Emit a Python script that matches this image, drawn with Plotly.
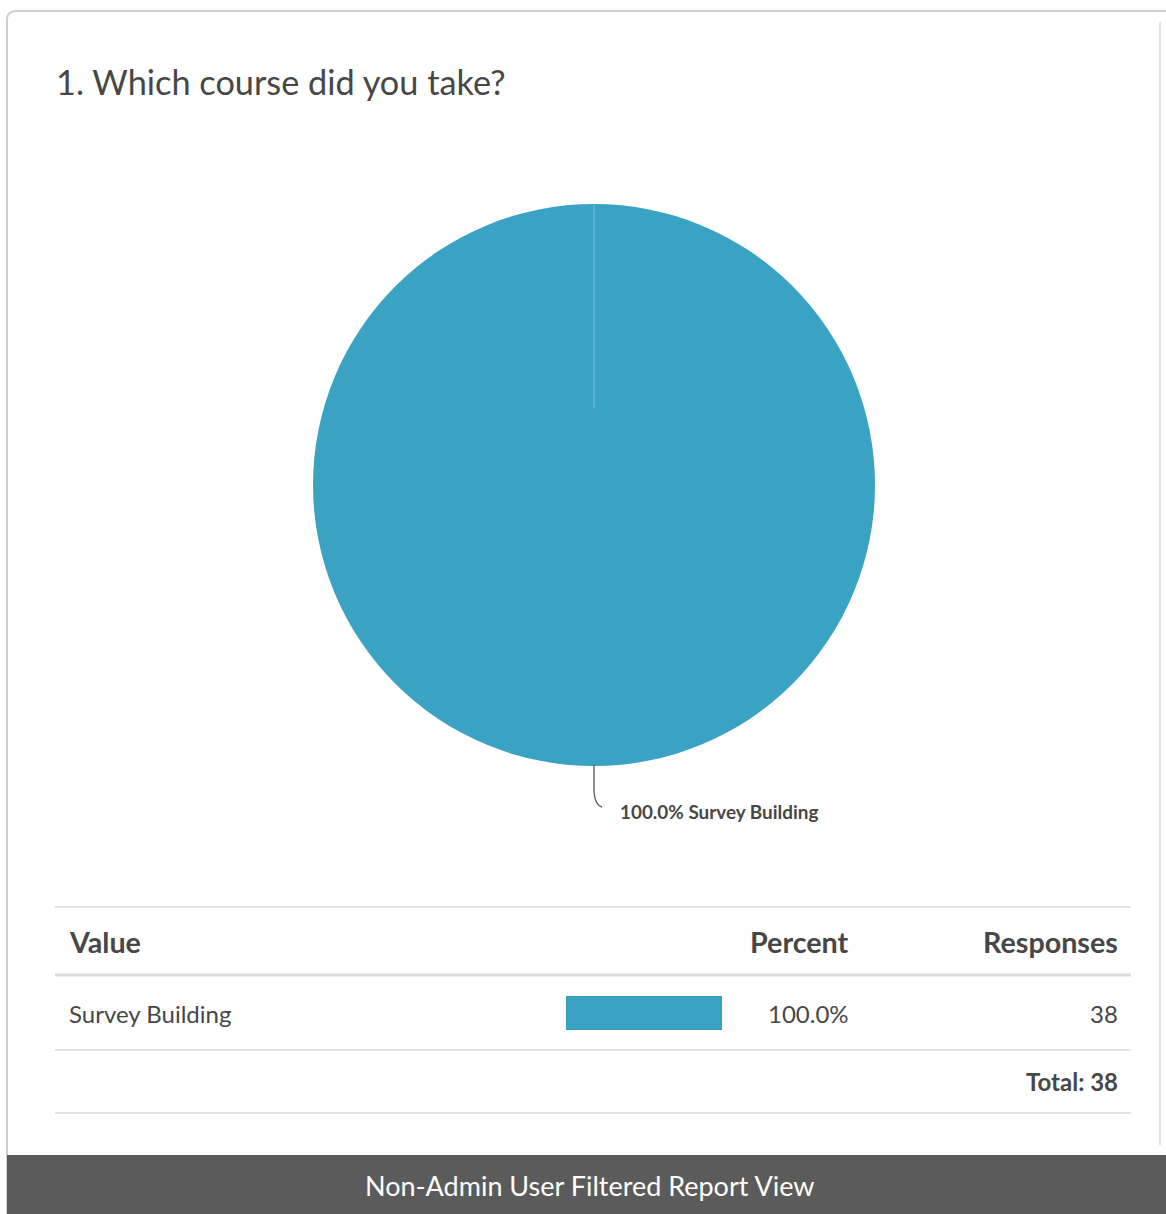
import plotly.graph_objects as go

# ---- data ----
question = "1. Which course did you take?"
categories = ["Survey Building"]
responses = [38]
table_headers = ["Value", "Percent", "Responses"]
footer_text = "Non-Admin User Filtered Report View"

total = sum(responses)
percents = [100.0 * r / total for r in responses]

W, H = 1166, 1214
BLUE = "#3aa3c4"
TXT = "#474747"
FONT = "Lato"


def X(p):
    return p / W


def Y(p):
    return 1 - p / H


fig = go.Figure()

# pie
fig.add_trace(go.Pie(
    values=responses, labels=categories,
    marker=dict(colors=[BLUE], line=dict(width=0)),
    textinfo="none", sort=False, direction="clockwise", rotation=0,
    domain=dict(x=[X(313), X(875)], y=[Y(766), Y(204)]),
    showlegend=False, hoverinfo="label+percent",
))

# inline bar in table
fig.add_trace(go.Bar(
    x=percents, y=[0], orientation="h", width=1,
    marker=dict(color=BLUE, line=dict(color="#3592b0", width=1)),
    showlegend=False, hoverinfo="x",
))

fig.update_layout(
    width=W, height=H,
    margin=dict(l=0, r=0, t=0, b=0),
    paper_bgcolor="white", plot_bgcolor="rgba(0,0,0,0)",
    font=dict(family=FONT, color=TXT),
    xaxis=dict(domain=[X(566), X(722)], range=[0, 100], visible=False, fixedrange=True),
    yaxis=dict(domain=[Y(1030), Y(996)], range=[-0.5, 0.5], visible=False, fixedrange=True),
)

shapes = []
# card border
shapes.append(dict(type="path", xref="paper", yref="paper",
                   path=f"M {X(7)} {Y(1214)} L {X(7)} {Y(20)} Q {X(7)} {Y(11)} {X(16)} {Y(11)} L {X(1166)} {Y(11)}",
                   line=dict(color="#cfcfcf", width=2)))
shapes.append(dict(type="line", xref="paper", yref="paper",
                   x0=X(1160), x1=X(1160), y0=Y(22), y1=Y(1145),
                   line=dict(color="#e2e2e2", width=2)))
# pie seam
shapes.append(dict(type="line", xref="paper", yref="paper",
                   x0=X(594), x1=X(594), y0=Y(205), y1=Y(408),
                   line=dict(color="rgba(255,255,255,0.35)", width=1)))
# connector
shapes.append(dict(type="path", xref="paper", yref="paper",
                   path=f"M {X(594)} {Y(765)} L {X(594)} {Y(792)} Q {X(595)} {Y(805)} {X(602)} {Y(807)}",
                   line=dict(color="#555555", width=1.3)))
# table lines
for yy, lw, col in [(907, 2, "#e4e4e4"), (975, 3, "#dcdcdc"), (1050, 2, "#e4e4e4"), (1113, 2, "#e4e4e4")]:
    shapes.append(dict(type="line", xref="paper", yref="paper",
                       x0=X(55), x1=X(1131), y0=Y(yy), y1=Y(yy),
                       line=dict(color=col, width=lw)))
# footer band
shapes.append(dict(type="rect", xref="paper", yref="paper",
                   x0=X(7), x1=X(1166), y0=Y(1214), y1=Y(1155),
                   fillcolor="#5b5b5b", line=dict(width=0), layer="above"))
fig.update_layout(shapes=shapes)

ann = []


def add_text(text, x, y, size, anchor="left", bold=False, color=TXT):
    ann.append(dict(text=f"<b>{text}</b>" if bold else text, x=X(x), y=Y(y),
                    xref="paper", yref="paper", showarrow=False,
                    xanchor=anchor, yanchor="middle",
                    font=dict(family=FONT, size=size, color=color)))


add_text(question, 54, 82, 34.3)
add_text(f"{percents[0]:.1f}% {categories[0]}", 618, 811, 18.9, bold=True)
add_text(table_headers[0], 67, 942, 28.7, bold=True)
add_text(table_headers[1], 851, 942, 28.7, "right", bold=True)
add_text(table_headers[2], 1120, 942, 28.7, "right", bold=True)
row_y = [1013]
for i, cat in enumerate(categories):
    add_text(cat, 67, row_y[i], 24)
    add_text(f"{percents[i]:.1f}%", 851, row_y[i], 24, "right")
    add_text(str(responses[i]), 1120, row_y[i], 24, "right")
add_text(f"Total: {total}", 1120, 1081, 24, "right", bold=True)
add_text(footer_text, 589, 1185, 27, "center", color="white")
fig.update_layout(annotations=ann)

fig.write_html(
    "out.html",
    config={"displayModeBar": False},
    post_script="document.body.style.margin='0';document.body.style.overflow='hidden';",
)
